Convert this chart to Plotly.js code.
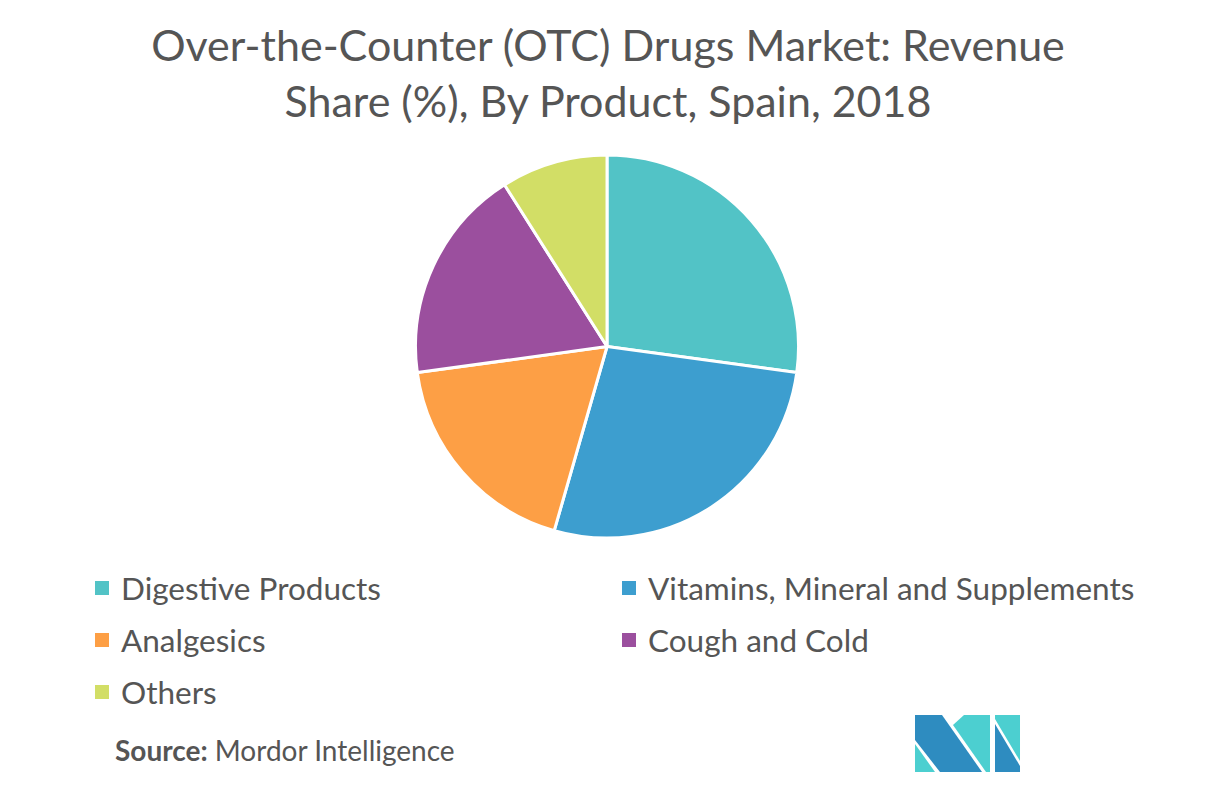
<!DOCTYPE html>
<html>
<head>
<meta charset="utf-8">
<script src="https://cdn.plot.ly/plotly-3.0.1.min.js"></script>
<style>html,body{margin:0;padding:0;background:#fff;}#chart{width:1216px;height:785px;}</style>
</head>
<body>
<div id="chart"></div>
<script>
const categories = ["Digestive Products", "Vitamins, Mineral and Supplements", "Analgesics", "Cough and Cold", "Others"];
const shares = [27.2, 27.3, 18.4, 18.2, 9.0];
const sliceColors = ["#52C3C6", "#3D9ECF", "#FD9F45", "#9B4F9E", "#D2DE66"];
const titleText = "Over-the-Counter (OTC) Drugs Market: Revenue<br>Share (%), By Product, Spain, 2018";
const sourceText = "<b>Source:</b> Mordor Intelligence";

const FONT = "Lato, 'Open Sans', sans-serif";
const TEXT_COLOR = "#555555";
const W = 1216, H = 785;

const data = [{
  type: "pie",
  labels: categories,
  values: shares,
  sort: false,
  direction: "clockwise",
  rotation: 0,
  marker: { colors: sliceColors, line: { color: "#ffffff", width: 3 } },
  textinfo: "none",
  hoverinfo: "none",
  showlegend: false,
  domain: { x: [0, 0.9984], y: [0.3146, 0.8025] }
}];

// legend drawn as squares + text, two columns
const legendCols = [95, 622];      // square left edge (px)
const legendRows = [588, 640, 692]; // row centre (px)
const sq = 14;
const shapes = [];
const annotations = [];
categories.forEach((c, i) => {
  const col = i % 2, row = Math.floor(i / 2);
  const x0 = legendCols[col], yc = legendRows[row];
  shapes.push({
    type: "rect", xref: "paper", yref: "paper",
    x0: x0 / W, x1: (x0 + sq) / W, y0: 1 - (yc + sq / 2) / H, y1: 1 - (yc - sq / 2) / H,
    fillcolor: sliceColors[i], line: { width: 0 }
  });
  annotations.push({
    text: c, xref: "paper", yref: "paper",
    x: (x0 + sq + 10) / W, y: 1 - yc / H, xanchor: "left", yanchor: "middle",
    showarrow: false, font: { family: FONT, size: 31.5, color: TEXT_COLOR }
  });
});

// logo
const logoDark = "#2E8CC0";
const logoTeal = "#4CCFD0";
function toPaperPath(pts) {
  return "M" + pts.map(q => (q[0] / W).toFixed(5) + "," + (1 - q[1] / H).toFixed(5)).join(" L") + " Z";
}
const logoPolys = [
  [[[915,715],[942,715],[982,772],[940,772],[915,740]], logoDark],
  [[[915,744],[915,772],[935,772]], logoTeal],
  [[[964,715],[990,715],[990,772],[986,772],[953,725]], logoTeal],
  [[[995,715],[1020,715],[1020,761],[995,719]], logoTeal],
  [[[995,724],[1020,766],[1020,772],[995,772]], logoDark]
];
logoPolys.forEach(lp => shapes.push({
  type: "path", xref: "paper", yref: "paper",
  path: toPaperPath(lp[0]), fillcolor: lp[1], line: { width: 0 }
}));

annotations.push({
  text: sourceText, xref: "paper", yref: "paper",
  x: 113 / W, y: 1 - 750 / H, xanchor: "left", yanchor: "middle",
  showarrow: false, font: { family: FONT, size: 28, color: TEXT_COLOR }
});

const layout = {
  width: W, height: H,
  margin: { l: 0, r: 0, t: 0, b: 0 },
  paper_bgcolor: "#ffffff",
  font: { family: FONT, color: TEXT_COLOR },
  title: {
    text: titleText,
    font: { family: FONT, size: 43, color: TEXT_COLOR },
    x: 0.5, xanchor: "center", xref: "paper",
    y: 1 - 61 / H, yanchor: "middle", yref: "container"
  },
  showlegend: false,
  shapes: shapes,
  annotations: annotations
};

Plotly.newPlot("chart", data, layout, { displayModeBar: false, staticPlot: true });
</script>
</body>
</html>
